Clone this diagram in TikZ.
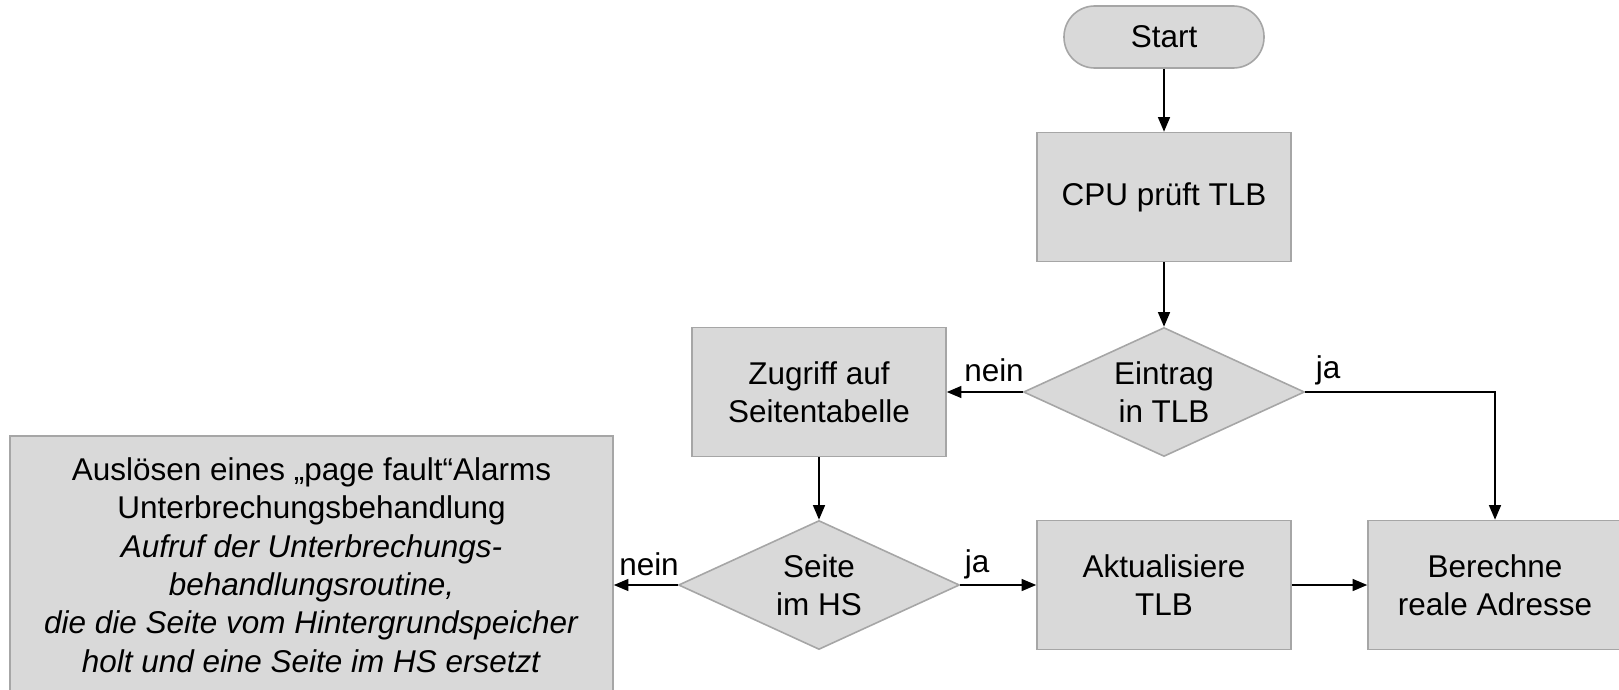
\documentclass[tikz,border=0pt]{standalone}
\usepackage{fontspec}
\setmainfont{Liberation Sans}
\usetikzlibrary{shapes.geometric,arrows.meta}
\definecolor{boxfill}{HTML}{D9D9D9}
\definecolor{boxline}{HTML}{A6A6A6}
\newcommand\fsz{\fontsize{23.6}{28.8}\selectfont}
\tikzset{
 base/.style={draw=boxline, fill=boxfill, line width=1.2pt, align=center, font=\fsz, inner sep=0pt},
 proc/.style={base, rectangle, minimum width=190.5pt, minimum height=96.75pt},
 decision/.style={base, diamond, shape aspect=2.178, minimum width=210.75pt, minimum height=96.75pt},
 term/.style={base, rectangle, rounded corners=23pt, minimum width=150pt, minimum height=46.5pt},
 conn/.style={line width=1.2pt, -{Triangle[length=11pt,width=9pt]}},
 lbl/.style={font=\fsz, inner sep=0pt}
}
\begin{document}
\begin{tikzpicture}[x=0.75pt,y=-0.75pt]
\useasboundingbox (0,0) rectangle (1619,689);
\clip (0,0) rectangle (1619,689);
\node[term] (start) at (1164,37) {Start};
\node[proc] (cpu) at (1164,197) {CPU prüft TLB};
\node[decision] (eintrag) at (1164,392) {Eintrag\\in TLB};
\node[proc] (zugriff) at (819,392) {Zugriff auf\\Seitentabelle};
\node[decision] (seite) at (819,585) {Seite\\im HS};
\node[proc] (akt) at (1164,585) {Aktualisiere\\TLB};
\node[proc] (ber) at (1495,585) {Berechne\\reale Adresse};
\node[base, rectangle, minimum width=452.25pt, minimum height=193.5pt] (aus) at (311.5,565)
 {Auslösen eines „page fault“Alarms\\Unterbrechungsbehandlung\\\textit{Aufruf der Unterbrechungs-}\\\textit{behandlungsroutine,}\\\textit{die die Seite vom Hintergrundspeicher}\\\textit{holt und eine Seite im HS ersetzt}};
\draw[conn] (start) -- (cpu);
\draw[conn] (cpu) -- (eintrag);
\draw[conn] (eintrag.west) -- (zugriff.east);
\draw[conn] (eintrag.east) -| (ber.north);
\draw[conn] (zugriff) -- (seite);
\draw[conn] (seite.east) -- (akt.west);
\draw[conn] (akt.east) -- (ber.west);
\draw[conn] (seite.west) -- (seite.west -| aus.east);
\node[lbl] (l1) at (994,370) {nein};
\node[lbl] (l2) at (1328,370) {ja};
\node[lbl] (l3) at (977,564) {ja};
\node[lbl] (l4) at (649,564) {nein};
\end{tikzpicture}
\end{document}
